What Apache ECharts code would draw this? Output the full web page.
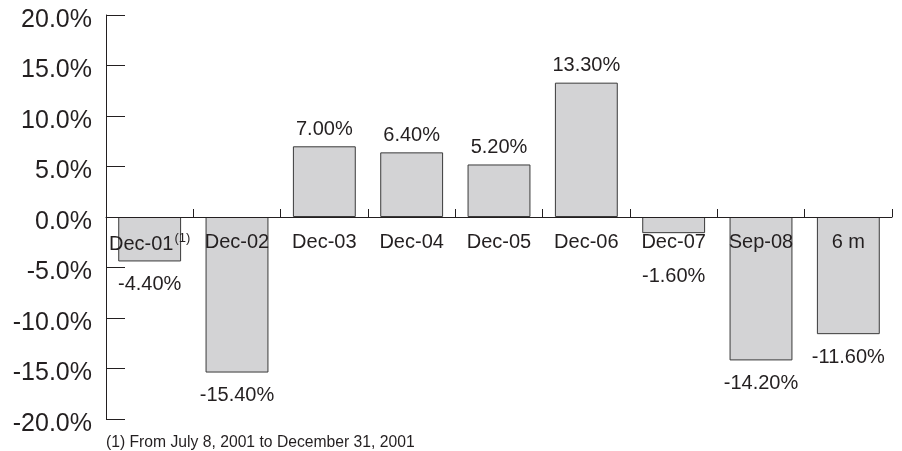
<!DOCTYPE html>
<html>
<head>
<meta charset="utf-8">
<script src="https://cdn.jsdelivr.net/npm/echarts@6/dist/echarts.min.js"></script>
<style>
  html, body { margin: 0; padding: 0; background: #fff; }
  #chart { width: 902px; height: 451px; }
</style>
</head>
<body>
<div id="chart"></div>
<script>
// categories and returns (%)
var categories = ['Dec-01', 'Dec-02', 'Dec-03', 'Dec-04', 'Dec-05', 'Dec-06', 'Dec-07', 'Sep-08', '6 m'];
var returns = [-4.4, -15.4, 7.0, 6.4, 5.2, 13.3, -1.6, -14.2, -11.6];
var footnote = '(1) From July 8, 2001 to December 31, 2001';

(function () {
    var dom = document.getElementById('chart');
    var myChart = echarts.init(dom);
    var font = 'Liberation Sans, Arial, Helvetica, sans-serif';
    var ink = '#231f20';
    var gridTop = 15, gridBottom = 32;
    // category axis sits on the zero line (middle of a symmetric -20..20 axis)
    var zeroOffset = -(451 - gridTop - gridBottom) / 2;

    var barData = returns.map(function (v) {
        var dist = v >= 0 ? 7 : (v > -3 ? 33 : 13); // short bars: push label below the category name
        return {
            value: v,
            label: { position: v >= 0 ? 'top' : 'bottom', distance: dist }
        };
    });

    var option = {
        animation: false,
        backgroundColor: '#ffffff',
        grid: { left: 106, right: 10, top: gridTop, bottom: gridBottom, outerBoundsMode: 'none', containLabel: false },
        xAxis: {
            type: 'category',
            data: categories,
            offset: zeroOffset,
            axisLine: { onZero: false, lineStyle: { color: ink, width: 1 } },
            axisTick: { show: true, interval: 0, inside: true, length: 8, lineStyle: { color: ink, width: 1 } },
            axisLabel: {
                interval: 0,
                margin: 15,
                color: ink,
                fontFamily: font,
                fontSize: 20,
                formatter: function (val) {
                    return val === 'Dec-01' ? val + '{sup|(1)}' : val;
                },
                rich: {
                    sup: {
                        fontSize: 13,
                        fontFamily: font,
                        color: ink,
                        verticalAlign: 'bottom',
                        padding: [0, 0, 12, 1]
                    }
                }
            },
            z: 10
        },
        yAxis: {
            type: 'value',
            min: -20,
            max: 20,
            interval: 5,
            axisLine: { show: true, lineStyle: { color: ink, width: 1 } },
            axisTick: { show: true, inside: true, length: 19, lineStyle: { color: ink } },
            splitLine: { show: false },
            axisLabel: {
                margin: 14,
                color: ink,
                fontFamily: font,
                fontSize: 25,
                verticalAlign: 'top',
                lineHeight: 10,
                formatter: function (v) { return v.toFixed(1) + '%'; }
            }
        },
        series: [{
            type: 'bar',
            data: barData,
            barWidth: '72%',
            itemStyle: { color: '#d3d3d5', borderColor: '#3a3a3a', borderWidth: 1 },
            label: {
                show: true,
                color: ink,
                fontFamily: font,
                fontSize: 20,
                formatter: function (p) { return p.value.toFixed(2) + '%'; }
            }
        }],
        graphic: [{
            type: 'text',
            left: 106,
            top: 435,
            style: {
                text: footnote,
                fill: ink,
                font: '15.7px ' + font
            }
        }]
    };
    myChart.setOption(option, true);
})();
</script>
</body>
</html>
